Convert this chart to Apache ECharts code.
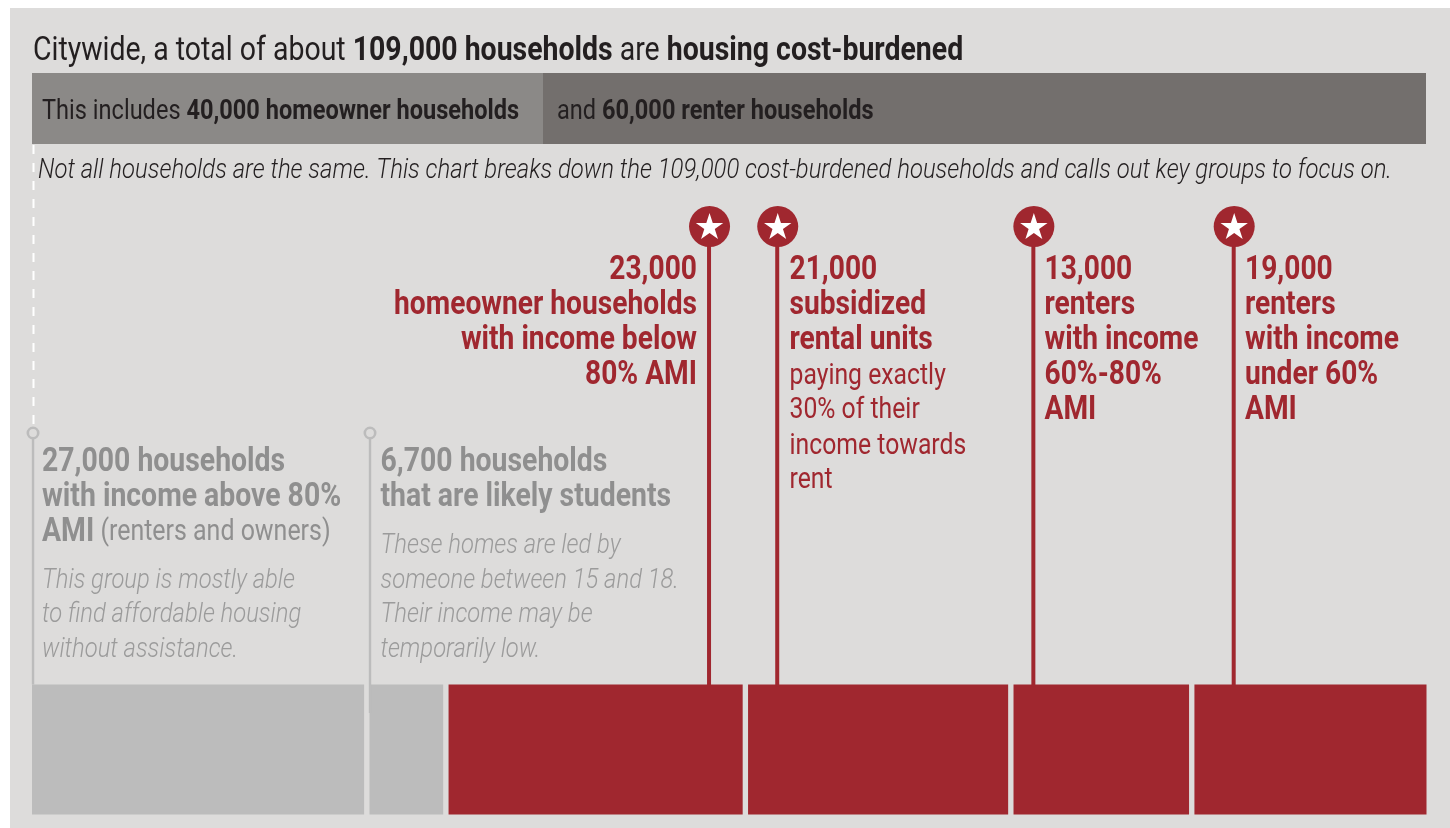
<!DOCTYPE html>
<html><head><meta charset="utf-8">
<style>html,body{margin:0;padding:0;background:#fff}#c{width:1450px;height:828px}</style>
<script src="https://cdn.jsdelivr.net/npm/echarts@6/dist/echarts.min.js"></script>
</head><body><div id="c"></div>
<script>
// Data (thousands of households)
const tenureNames = ['Homeowner households', 'Renter households'];
const tenureValues = [39.95, 69];
const groupNames = ['Income above 80% AMI', 'Likely students', 'Homeowners below 80% AMI', 'Subsidized rental units', 'Renters 60%-80% AMI', 'Renters under 60% AMI'];
const groupValues = [25.96, 5.76, 22.99, 20.33, 13.72, 18.14];
const groupFlagged = [false, false, true, true, true, true];
const groupGap = 0.42;
const starAnchors = [52.92, 58.25, 78.27, 93.93];
const plainAnchors = [0.08, 26.42];

const RED = '#a0272f', GREY = '#bcbcbc', DARK = '#231f20', MUTED = '#8f8f8f', SOFT = '#9b9b9b';
const FONT = 'Roboto';

function stacked(vals, gap) {
  let s = 0;
  return vals.map((v, i) => { const r = [s, s + v, i]; s += v + gap; return r; });
}
function st(size, color, weight, italic) {
  return { fontFamily: FONT, fontSize: size, fill: color, fontWeight: weight || 400, fontStyle: italic ? 'italic' : 'normal', lineHeight: size * 1.2 };
}
function txt(x, y, text, set, align) {
  return {
    type: 'text', x, y, scaleX: set.sq, z: 100, silent: true,
    style: { x: 0, y: 0, text, rich: set.rich, align: align || 'left', verticalAlign: 'middle', fontFamily: FONT }
  };
}
const tR = { sq: 0.862, rich: { r: st(33, DARK), b: st(33, DARK, 700) } };
const bR = { sq: 0.842, rich: { r: st(28, DARK), b: st(28, DARK, 700) } };
const iR = { sq: 0.853, rich: { i: st(28, DARK, 300, true) } };
const redR = { sq: 0.854, rich: { b: st(33, RED, 700), r: st(29, RED) } };
const grR = { sq: 0.86, rich: { b: st(33, MUTED, 700), r: st(29, MUTED) } };
const itR = { sq: 0.835, rich: { i: st(28.5, SOFT, 300, true) } };

const labelLines = [
  [33, 52.2, '{r|Citywide, a total of about }{b|109,000 households}{r| are }{b|housing cost-burdened}', tR],
  [42, 112.2, '{r|This includes }{b|40,000 homeowner households}', bR],
  [557, 112.2, '{r|and }{b|60,000 renter households}', bR],
  [38, 171.2, '{i|Not all households are the same. This chart breaks down the 109,000 cost-burdened households and calls out key groups to focus on.}', iR],
  [697, 271, '{b|23,000}', redR, 'right'], [697, 306, '{b|homeowner households}', redR, 'right'],
  [697, 341, '{b|with income below}', redR, 'right'], [697, 376, '{b|80% AMI}', redR, 'right'],
  [789.5, 271, '{b|21,000}', redR], [789.5, 306, '{b|subsidized}', redR], [789.5, 341, '{b|rental units}', redR],
  [789.5, 376.5, '{r|paying exactly}', redR], [789.5, 411, '{r|30% of their}', redR], [789.5, 446.5, '{r|income towards}', redR], [789.5, 480.5, '{r|rent}', redR],
  [1044.5, 271, '{b|13,000}', redR], [1044.5, 306, '{b|renters}', redR], [1044.5, 341, '{b|with income}', redR], [1044.5, 376, '{b|60%-80%}', redR], [1044.5, 411, '{b|AMI}', redR],
  [1245, 271, '{b|19,000}', redR], [1245, 306, '{b|renters}', redR], [1245, 341, '{b|with income}', redR], [1245, 376, '{b|under 60%}', redR], [1245, 411, '{b|AMI}', redR],
  [42, 463, '{b|27,000 households}', grR], [42, 498, '{b|with income above 80%}', grR], [42, 533, '{b|AMI}{r| (renters and owners)}', grR],
  [42, 580.5, '{i|This group is mostly able}', itR], [42, 615, '{i|to find affordable housing}', itR], [42, 649.5, '{i|without assistance.}', itR],
  [380.5, 463, '{b|6,700 households}', grR], [380.5, 498, '{b|that are likely students}', grR],
  [380.5, 545.5, '{i|These homes are led by}', itR], [380.5, 580.5, '{i|someone between 15 and 18.}', itR], [380.5, 615, '{i|Their income may be}', itR], [380.5, 649.5, '{i|temporarily low.}', itR]
];

function barItem(colorOf, snap) {
  return function (params, api) {
    const a = api.coord([api.value(0), 1]), b = api.coord([api.value(1), 0]);
    const x0 = snap ? Math.round(a[0]) : a[0], x1 = snap ? Math.round(b[0]) : b[0];
    return { type: 'rect', shape: { x: x0, y: a[1], width: x1 - x0, height: b[1] - a[1] }, style: { fill: colorOf(api.value(2)) } };
  };
}
const BAR_TOP = 684.5, STEM_TOP = 227, PLAIN_TOP = 433;
function starPoints(cx, cy, R) {
  const pts = [], r = R * 0.382;
  for (let i = 0; i < 10; i++) {
    const a = -Math.PI / 2 + i * Math.PI / 5, q = i % 2 ? r : R;
    pts.push([cx + q * Math.cos(a), cy + q * Math.sin(a)]);
  }
  return pts;
}
function starItem(params, api) {
  const x = api.coord([api.value(0), 0])[0];
  return { type: 'group', children: [
    { type: 'rect', shape: { x: x - 2, y: STEM_TOP, width: 4, height: BAR_TOP + 2 - STEM_TOP }, style: { fill: RED } },
    { type: 'circle', shape: { cx: x + 0.5, cy: STEM_TOP - 0.5, r: 20.5 }, style: { fill: RED } },
    { type: 'polygon', shape: { points: starPoints(x + 0.5, STEM_TOP + 0.4, 14.4) }, style: { fill: '#fff' } }
  ] };
}
function plainItem(params, api) {
  const x = api.coord([api.value(0), 0])[0], i = params.dataIndex;
  const bottom = i === 1 ? 713 : BAR_TOP;
  return { type: 'group', children: [
    { type: 'rect', shape: { x: x - 1.2, y: PLAIN_TOP + 5.5, width: 2.4, height: bottom - PLAIN_TOP - 5.5 }, style: { fill: GREY } },
    { type: 'circle', shape: { cx: x, cy: PLAIN_TOP, r: 5.2 }, style: { fill: 'none', stroke: GREY, lineWidth: 2.6 } }
  ] };
}

const hiddenX = (i) => ({ type: 'value', gridIndex: i, min: 0, max: i === 0 ? 108.95 : 109, show: false });
const hiddenY = (i) => ({ type: 'value', gridIndex: i, min: 0, max: 1, show: false });

const chart = echarts.init(document.getElementById('c'), null, { renderer: 'canvas', width: 1450, height: 828 });
chart.setOption({
  animation: false,
  backgroundColor: '#fff',
  grid: [
    { left: 32, width: 1394, top: 73, height: 71 },
    { left: 32, width: 1394.5, top: BAR_TOP, height: 130 }
  ],
  xAxis: [hiddenX(0), hiddenX(1)],
  yAxis: [hiddenY(0), hiddenY(1)],
  graphic: [
    { type: 'rect', z: -10, silent: true, shape: { x: 10, y: 8, width: 1440, height: 820 }, style: { fill: '#dddcdb' } },
    { type: 'line', z: 1, silent: true, shape: { x1: 33.5, y1: 145, x2: 33.5, y2: 425 }, style: { stroke: '#fff', lineWidth: 2, lineDash: [9, 9] } }
  ].concat(labelLines.map(l => txt.apply(null, l))),
  series: [
    { name: 'Tenure', type: 'custom', coordinateSystem: 'cartesian2d', xAxisIndex: 0, yAxisIndex: 0, silent: true, z: 2,
      renderItem: barItem(i => ['#8b8987', '#736f6d'][i], true), encode: { x: [0, 1] },
      data: stacked(tenureValues, 0) },
    { name: 'Groups', type: 'custom', coordinateSystem: 'cartesian2d', xAxisIndex: 1, yAxisIndex: 1, silent: true, z: 3,
      renderItem: barItem(i => groupFlagged[i] ? RED : GREY, false), encode: { x: [0, 1] },
      data: stacked(groupValues, groupGap) },
    { name: 'Key groups', type: 'custom', coordinateSystem: 'cartesian2d', xAxisIndex: 1, yAxisIndex: 1, silent: true, z: 4,
      renderItem: starItem, encode: { x: 0 }, data: starAnchors.map(v => [v]) },
    { name: 'Other groups', type: 'custom', coordinateSystem: 'cartesian2d', xAxisIndex: 1, yAxisIndex: 1, silent: true, z: 4,
      renderItem: plainItem, encode: { x: 0 }, data: plainAnchors.map(v => [v]) }
  ]
});
</script></body></html>
